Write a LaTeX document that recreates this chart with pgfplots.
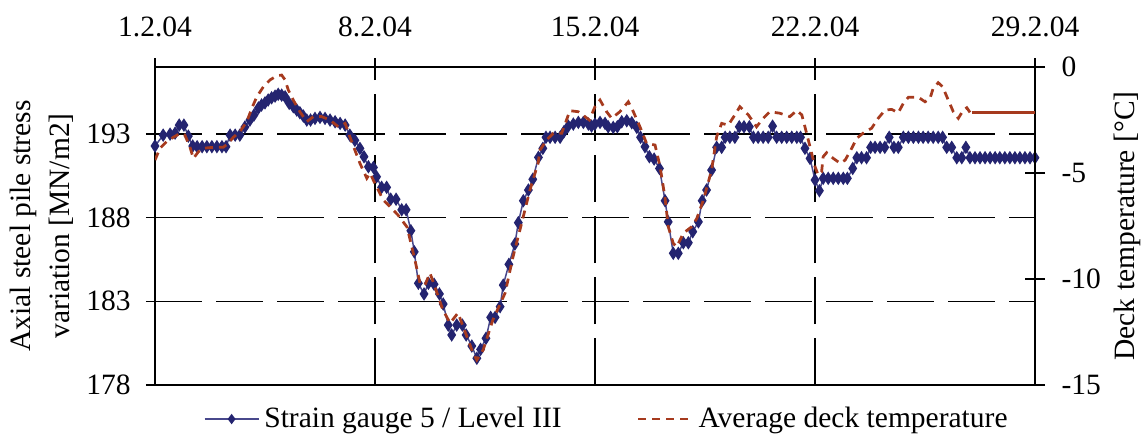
\documentclass[border=0pt]{standalone}
\usepackage{fontspec}
\setmainfont{Liberation Serif}
\usepackage{pgfplots}
\pgfplotsset{compat=1.18}
\definecolor{navy}{RGB}{36,36,112}
\definecolor{navyline}{RGB}{72,72,140}
\definecolor{rust}{RGB}{166,58,30}

\pgfplotstableread{
d v
0.00 192.28
0.26 192.93
0.48 192.99
0.64 193.05
0.77 193.53
0.92 193.53
1.06 192.87
1.20 192.28
1.34 192.24
1.50 192.24
1.65 192.24
1.81 192.24
1.97 192.24
2.13 192.24
2.26 192.24
2.39 192.93
2.55 192.93
2.70 192.93
2.86 193.41
3.02 193.83
3.15 194.13
3.29 194.55
3.39 194.73
3.50 194.86
3.60 195.03
3.71 195.16
3.82 195.26
3.92 195.37
4.03 195.32
4.14 195.22
4.27 194.83
4.40 194.63
4.51 194.43
4.61 194.27
4.72 194.07
4.83 193.83
4.95 193.83
5.09 193.93
5.25 193.99
5.41 193.93
5.57 193.83
5.73 193.73
5.89 193.63
6.05 193.53
6.20 192.93
6.36 192.62
6.52 192.14
6.65 191.64
6.79 191.04
6.95 191.00
7.05 190.44
7.21 189.81
7.37 189.81
7.50 189.10
7.67 189.10
7.85 188.47
7.99 188.47
8.14 187.22
8.25 185.96
8.38 184.08
8.56 183.44
8.70 184.08
8.88 184.02
9.05 183.44
9.17 182.84
9.33 181.58
9.44 180.99
9.60 181.58
9.78 181.58
9.90 180.99
10.08 180.33
10.24 179.60
10.36 180.13
10.53 180.79
10.68 182.04
10.82 182.04
10.98 182.68
11.08 183.97
11.26 185.21
11.45 186.42
11.56 187.70
11.72 189.01
11.88 189.65
12.02 190.29
12.20 191.60
12.34 192.14
12.44 192.80
12.57 192.80
12.73 192.80
12.89 192.80
13.01 193.13
13.15 193.47
13.31 193.59
13.47 193.69
13.63 193.69
13.79 193.59
13.89 193.47
14.00 193.59
14.16 193.69
14.32 193.63
14.42 193.43
14.58 193.39
14.71 193.43
14.85 193.73
15.01 193.79
15.17 193.67
15.33 193.39
15.45 192.80
15.59 192.24
15.73 191.64
15.88 191.50
16.05 190.94
16.23 189.01
16.33 187.75
16.49 185.87
16.65 185.87
16.81 186.50
16.97 186.50
17.11 187.16
17.29 187.75
17.41 189.01
17.55 189.65
17.71 190.84
17.87 192.20
18.03 192.20
18.14 192.80
18.29 192.80
18.45 192.80
18.59 193.43
18.74 193.43
18.91 193.43
19.04 192.80
19.19 192.80
19.35 192.80
19.51 192.80
19.65 193.47
19.78 192.80
19.94 192.80
20.10 192.80
20.26 192.80
20.42 192.80
20.54 192.80
20.68 192.14
20.84 191.54
21.00 190.25
21.14 189.61
21.26 190.35
21.42 190.35
21.58 190.35
21.74 190.35
21.90 190.35
22.03 190.35
22.20 190.94
22.33 191.58
22.48 191.58
22.64 191.58
22.77 192.20
22.91 192.20
23.07 192.20
23.22 192.20
23.36 192.80
23.51 192.20
23.65 192.20
23.81 192.80
23.97 192.80
24.13 192.80
24.29 192.80
24.44 192.80
24.60 192.80
24.76 192.80
24.92 192.80
25.06 192.80
25.19 192.20
25.35 192.20
25.51 191.58
25.67 191.58
25.80 192.20
25.93 191.58
26.09 191.58
26.25 191.58
26.41 191.58
26.57 191.58
26.73 191.58
26.88 191.58
27.04 191.58
27.20 191.58
27.36 191.58
27.52 191.58
27.68 191.58
27.84 191.58
28.00 191.58
}\straintable

\pgfplotstableread{
d t
0.00 -4.39
0.16 -3.83
0.37 -3.52
0.58 -3.32
0.80 -3.13
0.95 -3.21
1.11 -3.76
1.22 -4.31
1.38 -4.00
1.54 -3.83
1.85 -3.79
2.17 -3.79
2.33 -3.60
2.49 -3.32
2.70 -3.05
2.92 -2.58
3.08 -1.95
3.24 -1.40
3.45 -0.93
3.66 -0.61
3.87 -0.42
4.03 -0.38
4.14 -0.61
4.24 -1.08
4.40 -1.56
4.61 -2.11
4.83 -2.58
5.04 -2.34
5.30 -2.34
5.57 -2.50
5.83 -2.82
6.05 -2.66
6.20 -3.29
6.36 -3.92
6.52 -4.54
6.74 -5.25
6.84 -5.01
7.05 -5.65
7.26 -6.27
7.48 -6.59
7.73 -6.98
8.02 -7.55
8.27 -9.10
8.43 -10.19
8.59 -10.28
8.75 -9.72
8.94 -10.52
9.16 -11.46
9.39 -12.08
9.64 -11.60
9.93 -12.74
10.12 -13.49
10.24 -13.82
10.44 -13.35
10.75 -11.93
11.14 -10.66
11.39 -8.96
11.61 -7.69
11.93 -5.80
12.19 -4.53
12.25 -3.92
12.46 -3.44
12.67 -3.13
12.94 -3.13
13.20 -2.06
13.47 -2.11
13.68 -2.34
13.82 -2.50
14.00 -1.87
14.16 -1.56
14.37 -2.11
14.53 -2.42
14.79 -2.11
15.06 -1.64
15.22 -2.11
15.43 -2.82
15.64 -3.60
15.91 -3.68
16.07 -4.70
16.23 -6.19
16.33 -7.53
16.49 -8.32
16.60 -8.48
16.81 -7.84
17.08 -7.53
17.24 -7.14
17.45 -6.27
17.71 -4.86
17.87 -3.29
18.03 -2.66
18.24 -2.74
18.45 -2.26
18.61 -1.87
18.88 -2.26
19.14 -2.82
19.35 -2.42
19.56 -2.11
19.88 -2.18
20.20 -2.34
20.42 -2.05
20.58 -2.26
20.68 -2.82
20.84 -3.76
21.00 -4.70
21.10 -5.09
21.21 -4.94
21.26 -4.23
21.37 -4.04
21.58 -4.31
21.80 -4.54
21.96 -4.39
22.17 -3.83
22.33 -3.36
22.59 -3.05
22.80 -2.89
23.01 -2.42
23.23 -2.03
23.44 -2.00
23.65 -2.16
23.81 -1.71
23.97 -1.43
24.29 -1.43
24.50 -1.64
24.66 -1.48
24.76 -1.00
24.92 -0.74
25.06 -0.93
25.24 -1.56
25.40 -2.11
25.56 -2.42
25.72 -2.03
25.83 -1.92
25.93 -2.14
}\temptable

\pgfplotstableread{
d t
25.98 -2.14
28.00 -2.14
}\tempflat

\begin{document}
\fontsize{11.8}{15.6}\selectfont
\begin{tikzpicture}
\useasboundingbox (-62pt,-20.4pt) rectangle (397.2pt,154pt);
\begin{axis}[
  at={(0pt,0pt)}, anchor=south west,
  scale only axis, width=352pt, height=127.2pt,
  xmin=0, xmax=28, ymin=178, ymax=197,
  xtick={0,7,14,21,28},
  xticklabels={1.2.04,8.2.04,15.2.04,22.2.04,29.2.04},
  xtick pos=right, xticklabel pos=right,
  ytick={178,183,188,193}, ytick pos=left,
  tick align=outside, major tick length=3.6pt,
  tick style={black, line width=0.6pt},
  axis line style={black, line width=0.8pt},
  grid=major,
  major grid style={black, line width=0.55pt, dash pattern=on 18.8pt off 5.6pt},
  /pgf/number format/assume math mode=true,
  ticklabel style={font=\fontsize{11.8}{13}\selectfont},
  xticklabel style={yshift=4.5pt},
  yticklabel style={xshift=-2pt},
  ylabel={Axial steel pile stress\\variation [MN/m2]},
  ylabel style={at={(axis description cs:-0.129,0.5)}, anchor=center, align=center, font=\fontsize{11.8}{15.6}\selectfont},
]
\addplot[navyline, line width=0.6pt, mark=diamond*, mark size=1.9pt,
  mark options={navy, fill=navy, solid, yscale=1.15}] table[x=d, y=v] {\straintable};
\end{axis}
\begin{axis}[
  at={(0pt,0pt)}, anchor=south west,
  scale only axis, width=352pt, height=127.2pt,
  xmin=0, xmax=28, ymin=-15, ymax=0,
  axis x line=none, axis y line*=right,
  ytick={-15,-10,-5,0},
  yticklabels={-15,-10,-5,0},
  tick align=center, major tick length=8pt,
  tick style={black, line width=0.6pt},
  axis line style={black, line width=0.8pt},
  ticklabel style={font=\fontsize{11.8}{13}\selectfont},
  yticklabel style={xshift=2.5pt},
  ylabel={Deck temperature [°C]},
  ylabel style={at={(axis description cs:1.1045,0.5)}, anchor=center, font=\fontsize{11.8}{13}\selectfont},
  legend image code/.code={\draw[mark repeat=2,mark phase=2] plot coordinates {(0cm,0cm) (0.38cm,0cm) (0.76cm,0cm)};},
  legend style={at={(axis description cs:0.515,-0.107)}, anchor=center, draw=none, fill=none,
    legend columns=2, font=\fontsize{11.8}{13}\selectfont,
    /tikz/every even column/.append style={column sep=28pt}},
]
\addlegendimage{navyline, line width=0.6pt, mark=diamond*, mark size=1.6pt, mark options={navy, fill=navy, solid}}
\addlegendentry{Strain gauge 5 / Level III}
\addplot[rust, line width=1.1pt, dash pattern=on 3.2pt off 2.4pt] table[x=d, y=t] {\temptable};
\addlegendentry{Average deck temperature}
\addplot[rust, line width=1.1pt, forget plot] table[x=d, y=t] {\tempflat};
\end{axis}
\end{tikzpicture}
\end{document}
